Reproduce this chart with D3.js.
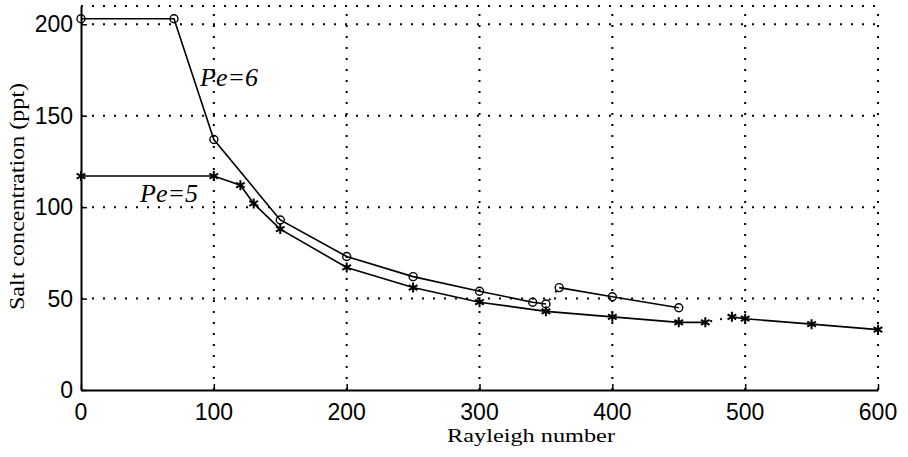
<!DOCTYPE html>
<html>
<head>
<meta charset="utf-8">
<script src="https://cdn.jsdelivr.net/npm/d3@7"></script>
<style>
  body { margin: 0; background: #fff; }
</style>
</head>
<body>
<div id="root"></div>
<script>
// values
const xTicks = [0, 100, 200, 300, 400, 500, 600];
const yTicks = [0, 50, 100, 150, 200];

// Pe=6 (circles), split where the curve jumps
const pe6RaA = [0, 70, 100, 150, 200, 250, 300, 340, 350];
const pe6SaltA = [203, 203, 137, 93, 73, 62, 54, 48, 47];
const pe6RaB = [360, 400, 450];
const pe6SaltB = [56, 51, 45];

// Pe=5 (stars)
const pe5RaA = [0, 100, 120, 130, 150, 200, 250, 300, 350, 400, 450, 470];
const pe5SaltA = [117, 117, 112, 102, 88, 67, 56, 48, 43, 40, 37, 37];
const pe5RaB = [490, 500, 550, 600];
const pe5SaltB = [40, 39, 36, 33];

const width = 908;
const height = 457;
const margin = { top: 6, right: 30, bottom: 67, left: 81 };

const svg = d3.select('#root')
    .append('svg')
        .attr('width', width)
        .attr('height', height);

const x = d3.scaleLinear()
    .domain([0, 600])
    .range([margin.left, width - margin.right]);
const y = d3.scaleLinear()
    .domain([0, 210])
    .range([height - margin.bottom, margin.top]);

const zip = (xs, ys) => xs.map((v, i) => [v, ys[i]]);

// dotted grid
const dots = '2,9';
svg.append('g')
    .selectAll('line')
    .data(xTicks.slice(1))
    .enter()
    .append('line')
        .attr('x1', d => x(d)).attr('x2', d => x(d))
        .attr('y1', y(0)).attr('y2', y(210))
        .attr('stroke', '#000')
        .attr('stroke-width', 2)
        .attr('stroke-dasharray', dots);
svg.append('g')
    .selectAll('line')
    .data(yTicks.slice(1).concat([210]))
    .enter()
    .append('line')
        .attr('x1', x(0)).attr('x2', x(600))
        .attr('y1', d => y(d)).attr('y2', d => y(d))
        .attr('stroke', '#000')
        .attr('stroke-width', 2)
        .attr('stroke-dasharray', dots);

// axes: solid left and bottom, ticks pointing in
const xAxis = svg.append('g')
    .attr('transform', `translate(0, ${y(0)})`)
    .call(d3.axisTop(x).tickValues(xTicks).tickSizeInner(6).tickSizeOuter(0).tickFormat(''));
xAxis.select('.domain').attr('stroke-width', 2);
xAxis.selectAll('.tick line').attr('stroke-width', 1.5);

const yAxis = svg.append('g')
    .attr('transform', `translate(${x(0)}, 0)`)
    .call(d3.axisRight(y).tickValues(yTicks).tickSizeInner(6).tickSizeOuter(0).tickFormat(''));
yAxis.select('.domain').attr('stroke-width', 2);
yAxis.selectAll('.tick line').attr('stroke-width', 1.5);

// tick labels
svg.append('g')
    .selectAll('text')
    .data(xTicks)
    .enter()
    .append('text')
        .attr('x', d => x(d))
        .attr('y', y(0) + 30)
        .attr('text-anchor', 'middle')
        .attr('font-family', 'Liberation Sans, Arial, sans-serif')
        .attr('font-size', 23)
        .text(d => d);
svg.append('g')
    .selectAll('text')
    .data(yTicks)
    .enter()
    .append('text')
        .attr('x', x(0) - 8)
        .attr('y', d => y(d) + 8)
        .attr('text-anchor', 'end')
        .attr('font-family', 'Liberation Sans, Arial, sans-serif')
        .attr('font-size', 23)
        .text(d => d);

// axis titles
svg.append('text')
    .attr('x', 447)
    .attr('y', 442)
    .attr('font-family', 'Liberation Serif, Times New Roman, serif')
    .attr('font-size', 19)
    .attr('textLength', 168)
    .attr('lengthAdjust', 'spacingAndGlyphs')
    .text('Rayleigh number');
svg.append('text')
    .attr('transform', 'translate(24, 310) rotate(-90)')
    .attr('font-family', 'Liberation Serif, Times New Roman, serif')
    .attr('font-size', 20)
    .attr('textLength', 227)
    .attr('lengthAdjust', 'spacingAndGlyphs')
    .text('Salt concentration (ppt)');

// curves
const line = d3.line().x(d => x(d[0])).y(d => y(d[1]));
const series = [
    { a: zip(pe6RaA, pe6SaltA), b: zip(pe6RaB, pe6SaltB), mark: 'circle' },
    { a: zip(pe5RaA, pe5SaltA), b: zip(pe5RaB, pe5SaltB), mark: 'star' },
];
series.forEach(s => {
    [s.a, s.b].forEach(seg => {
        svg.append('path')
            .attr('d', line(seg))
            .attr('fill', 'none')
            .attr('stroke', '#000')
            .attr('stroke-width', 1.6);
    });
    // dotted jump between the two branches
    svg.append('path')
        .attr('d', line([s.a[s.a.length - 1], s.b[0]]))
        .attr('fill', 'none')
        .attr('stroke', '#000')
        .attr('stroke-width', 2)
        .attr('stroke-dasharray', '2,8')
        .attr('stroke-dashoffset', -5);

    const sym = s.mark === 'circle'
        ? d3.symbol(d3.symbolCircle, 50)
        : d3.symbol(d3.symbolAsterisk, 70);
    svg.append('g')
        .selectAll('path')
        .data(s.a.concat(s.b))
        .enter()
        .append('path')
            .attr('transform', d => `translate(${x(d[0])}, ${y(d[1])})`)
            .attr('d', sym())
            .attr('fill', 'none')
            .attr('stroke', '#000')
            .attr('stroke-width', s.mark === 'circle' ? 1.4 : 2);
});

// curve labels
svg.append('text')
    .attr('x', 200)
    .attr('y', 86)
    .attr('font-family', 'Liberation Serif, Times New Roman, serif')
    .attr('font-style', 'italic')
    .attr('font-size', 26)
    .text('Pe=6');
svg.append('text')
    .attr('x', 140)
    .attr('y', 202)
    .attr('font-family', 'Liberation Serif, Times New Roman, serif')
    .attr('font-style', 'italic')
    .attr('font-size', 26)
    .text('Pe=5');
</script>
</body>
</html>
